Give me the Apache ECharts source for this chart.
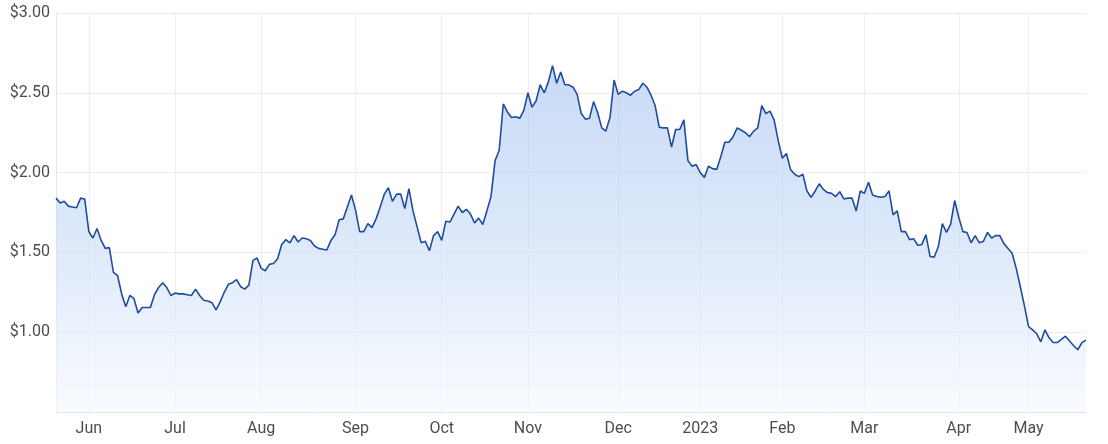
<!DOCTYPE html>
<html>
<head>
<meta charset="utf-8">
<script src="https://cdn.jsdelivr.net/npm/echarts@6/dist/echarts.min.js"></script>
<style>
  html, body { margin: 0; padding: 0; background: #ffffff; }
  #chart { width: 1108px; height: 444px; }
</style>
</head>
<body>
<div id="chart"></div>
<script>
// Trading-day calendar (ASX), 20 May 2022 .. 19 May 2023
const startDate = "2022-05-20";
const endDate = "2023-05-19";
const holidays = ["2022-06-13", "2022-09-22", "2022-12-26", "2022-12-27",
  "2023-01-02", "2023-01-26", "2023-04-07", "2023-04-10", "2023-04-25"];
const monthNames = ["Jan", "Feb", "Mar", "Apr", "May", "Jun", "Jul", "Aug", "Sep", "Oct", "Nov", "Dec"];
const yTicks = [0.5, 1.0, 1.5, 2.0, 2.5, 3.0];

// Closing prices (one per trading day)
const prices = [
  1.84, 1.81, 1.82, 1.79, 1.785, 1.78, 1.84, 1.835, 1.63, 1.59,
  1.65, 1.575, 1.525, 1.53, 1.375, 1.355, 1.24, 1.16, 1.23, 1.21,
  1.12, 1.155, 1.155, 1.155, 1.235, 1.28, 1.31, 1.28, 1.23, 1.245,
  1.24, 1.24, 1.235, 1.23, 1.27, 1.23, 1.2, 1.195, 1.185, 1.14,
  1.19, 1.25, 1.30, 1.31, 1.33, 1.285, 1.27, 1.295, 1.45, 1.465,
  1.40, 1.385, 1.425, 1.43, 1.46, 1.55, 1.58, 1.56, 1.605, 1.565,
  1.59, 1.585, 1.575, 1.54, 1.525, 1.52, 1.515, 1.575, 1.61, 1.705,
  1.71, 1.785, 1.86, 1.765, 1.63, 1.63, 1.68, 1.655, 1.71, 1.785,
  1.865, 1.905, 1.82, 1.865, 1.865, 1.775, 1.90, 1.76, 1.66, 1.56,
  1.57, 1.51, 1.605, 1.63, 1.575, 1.695, 1.69, 1.74, 1.79, 1.75,
  1.77, 1.74, 1.685, 1.715, 1.675, 1.76, 1.85, 2.075, 2.14, 2.43,
  2.38, 2.345, 2.35, 2.34, 2.39, 2.50, 2.41, 2.45, 2.55, 2.50,
  2.57, 2.67, 2.56, 2.63, 2.55, 2.55, 2.535, 2.49, 2.37, 2.335,
  2.34, 2.445, 2.375, 2.28, 2.26, 2.345, 2.58, 2.49, 2.51, 2.50,
  2.485, 2.51, 2.52, 2.56, 2.535, 2.485, 2.42, 2.285, 2.28, 2.28,
  2.16, 2.27, 2.27, 2.33, 2.075, 2.04, 2.05, 2.0, 1.97, 2.04,
  2.025, 2.02, 2.10, 2.19, 2.19, 2.225, 2.28, 2.265, 2.25, 2.225,
  2.26, 2.28, 2.42, 2.37, 2.385, 2.33, 2.20, 2.09, 2.12, 2.02,
  1.99, 1.975, 1.99, 1.885, 1.845, 1.885, 1.93, 1.895, 1.875, 1.87,
  1.85, 1.88, 1.835, 1.84, 1.84, 1.76, 1.885, 1.87, 1.94, 1.86,
  1.85, 1.845, 1.85, 1.885, 1.735, 1.76, 1.63, 1.63, 1.58, 1.585,
  1.545, 1.55, 1.61, 1.475, 1.47, 1.535, 1.68, 1.625, 1.675, 1.825,
  1.72, 1.63, 1.625, 1.56, 1.605, 1.56, 1.57, 1.625, 1.59, 1.605,
  1.605, 1.555, 1.525, 1.495, 1.40, 1.285, 1.165, 1.035, 1.015, 0.99,
  0.94, 1.015, 0.965, 0.935, 0.935, 0.955, 0.975, 0.945, 0.915, 0.89, 0.935, 0.95
];

function tradingDays(from, to, skip) {
  const out = [];
  const d = new Date(from + "T00:00:00Z");
  const end = new Date(to + "T00:00:00Z");
  while (d <= end) {
    const wd = d.getUTCDay();
    const s = d.toISOString().slice(0, 10);
    if (wd !== 0 && wd !== 6 && skip.indexOf(s) < 0) out.push(s);
    d.setUTCDate(d.getUTCDate() + 1);
  }
  return out;
}
const dates = tradingDays(startDate, endDate, holidays);

function isMonthStart(i) {
  if (i <= 0) return false;
  return dates[i].slice(5, 7) !== dates[i - 1].slice(5, 7);
}

const chart = echarts.init(document.getElementById("chart"));
const labelFont = { color: "#4d4d4d", fontSize: 16, fontFamily: "Roboto, 'Liberation Sans', sans-serif" };

chart.setOption({
  animation: false,
  grid: { left: 56, right: 22, top: 13, bottom: 32, containLabel: false },
  xAxis: {
    type: "category",
    data: dates,
    boundaryGap: false,
    axisLine: { show: true, lineStyle: { color: "#e3e3e3", width: 1 } },
    axisTick: { show: false },
    splitLine: {
      show: true,
      interval: function (i) { return isMonthStart(i); },
      lineStyle: { color: "#eeeeee", width: 1 }
    },
    axisLabel: Object.assign({
      interval: function (i) { return isMonthStart(i); },
      margin: 9,
      formatter: function (v) {
        const m = parseInt(v.slice(5, 7), 10) - 1;
        return m === 0 ? v.slice(0, 4) : monthNames[m];
      }
    }, labelFont)
  },
  yAxis: {
    type: "value",
    min: yTicks[0],
    max: yTicks[yTicks.length - 1],
    interval: 0.5,
    axisLine: { show: true, lineStyle: { color: "#e3e3e3", width: 1 } },
    axisTick: { show: false },
    splitLine: { show: true, lineStyle: { color: "#eeeeee", width: 1 } },
    axisLabel: Object.assign({
      margin: 6,
      formatter: function (v) {
        if (Math.abs(v - yTicks[0]) < 1e-9) return "";
        return "$" + v.toFixed(2);
      }
    }, labelFont)
  },
  series: [{
    type: "line",
    data: prices,
    symbol: "none",
    smooth: false,
    lineStyle: { color: "#1f4c9e", width: 1.6 },
    areaStyle: {
      color: new echarts.graphic.LinearGradient(0, 0, 0, 1, [
        { offset: 0, color: "rgb(176, 202, 242)" },
        { offset: 0.5, color: "rgb(206, 222, 247)" },
        { offset: 1, color: "rgb(246, 249, 254)" }
      ])
    }
  }]
});
</script>
</body>
</html>
